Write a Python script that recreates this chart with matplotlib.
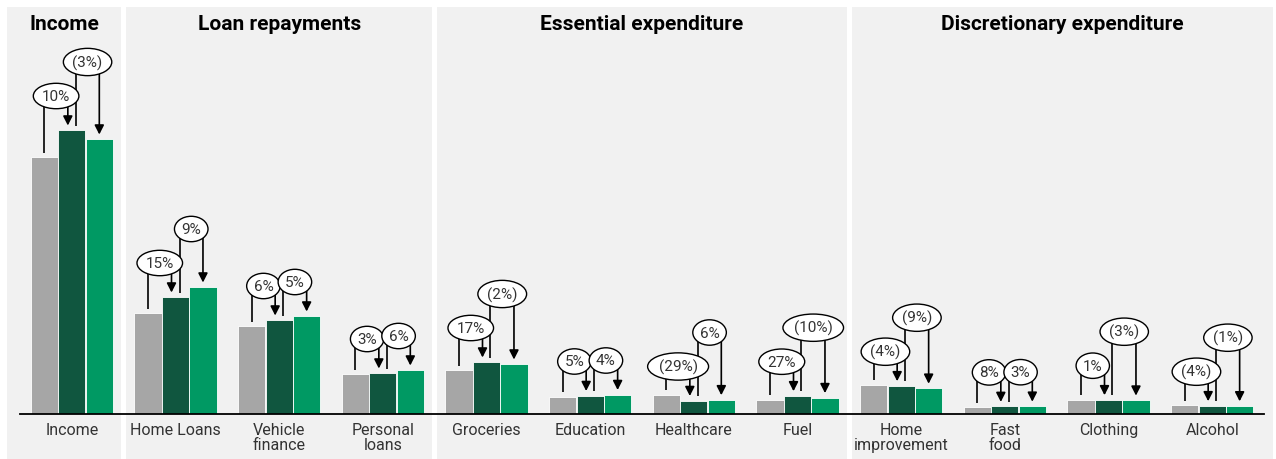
import matplotlib
matplotlib.use("Agg")
import matplotlib.pyplot as plt
from matplotlib.patches import Rectangle

# ---------------- data ----------------
categories = ["Income", "Home Loans", "Vehicle\nfinance", "Personal\nloans",
              "Groceries", "Education", "Healthcare", "Fuel",
              "Home\nimprovement", "Fast\nfood", "Clothing", "Alcohol"]
period_1 = [257, 101, 88, 40, 44, 17.5, 19.5, 14.3, 29.5, 7.0, 14.2, 8.6]
period_2 = [284, 117, 94, 41, 52, 18.5, 13.5, 18.3, 28.3, 7.6, 14.3, 8.3]
period_3 = [275, 127, 98, 44, 50, 19.5, 14.3, 16.4, 25.8, 7.8, 13.9, 8.2]
change_1_to_2 = ["10%", "15%", "6%", "3%", "17%", "5%", "(29%)", "27%", "(4%)", "8%", "1%", "(4%)"]
change_2_to_3 = ["(3%)", "9%", "5%", "6%", "(2%)", "4%", "6%", "(10%)", "(9%)", "3%", "(3%)", "(1%)"]
group_titles = ["Income", "Loan repayments", "Essential expenditure", "Discretionary expenditure"]
group_sizes = [1, 3, 4, 4]

# ---------------- style ----------------
FONT = "Roboto"
plt.rcParams["font.family"] = [FONT, "DejaVu Sans"]
C_GREY = "#a6a6a6"
C_DARK = "#10563f"
C_GREEN = "#009963"
C_PANEL = "#f1f1f1"

W, H = 1276, 460
fig = plt.figure(figsize=(W / 100, H / 100), dpi=100)
fig.patch.set_facecolor("white")
ax = fig.add_axes([20 / W, 45 / H, 1244 / W, 407 / H])
ax.set_facecolor("none")
n = len(categories)
ax.set_xlim(-0.5, n - 0.5)
ax.set_ylim(0, 407)

px_x = 1244 / n          # pixels per x unit
px_y = 1.0               # pixels per y unit

# panels
gap = 2.5 / px_x
start = 0
for gi, size in enumerate(group_sizes):
    x0 = start - 0.5 + (gap if start > 0 else -13 / px_x)
    end = start + size - 1
    x1 = end + 0.5 - (gap if end < n - 1 else -9 / px_x)
    ax.add_patch(Rectangle((x0, -46), x1 - x0, 453, facecolor=C_PANEL,
                           edgecolor="none", zorder=0, clip_on=False))
    ax.text((x0 + x1) / 2, 391, group_titles[gi], ha="center", va="center",
            fontsize=15, fontweight="bold", color="black", zorder=3)
    start += size

# bars
off = 0.265
bw = 0.262
xs = list(range(n))
ax.bar([x - off for x in xs], period_1, width=bw, color=C_GREY, edgecolor="white", linewidth=0.6, zorder=2)
ax.bar(xs, period_2, width=bw, color=C_DARK, edgecolor="white", linewidth=0.6, zorder=2)
ax.bar([x + off for x in xs], period_3, width=bw, color=C_GREEN, edgecolor="white", linewidth=0.6, zorder=2)

# axes styling
for s in ["left", "right", "top"]:
    ax.spines[s].set_visible(False)
ax.spines["bottom"].set_color("black")
ax.spines["bottom"].set_linewidth(1.3)
ax.spines["bottom"].set_zorder(4)
ax.set_yticks([])
ax.set_xticks(xs)
ax.set_xticklabels(categories, fontsize=11.5, color="#333333")
ax.tick_params(axis="x", length=0, pad=6)
for lbl in ax.get_xticklabels():
    lbl.set_linespacing(1.0)

# change annotations
LIFT = 34 / px_y
GAP = 4.5 / px_y
DX = 4 / px_x
bbox_kw = dict(boxstyle="ellipse,pad=0.13", fc="white", ec="black", lw=1)
LBL_FS = 11

labels1, labels2 = [], []
for i in xs:
    xg, xd, xc = i - off, i, i + off
    lvl1 = period_2[i] + LIFT
    t1 = ax.text((xg + xd - DX) / 2, lvl1, change_1_to_2[i], ha="center", va="center",
                 fontsize=LBL_FS, color="#333333", bbox=bbox_kw, zorder=6)
    lvl2 = period_3[i] + LIFT
    t2 = ax.text((xd + DX + xc) / 2, lvl2, change_2_to_3[i], ha="center", va="center",
                 fontsize=LBL_FS, color="#333333", bbox=bbox_kw, zorder=6)
    labels1.append((t1, lvl1))
    labels2.append((t2, lvl2))

fig.canvas.draw()
renderer = fig.canvas.get_renderer()


def arrow(x, y_top, y_tip):
    ax.annotate("", xy=(x, y_tip), xytext=(x, y_top),
                arrowprops=dict(arrowstyle="-|>,head_length=0.55,head_width=0.28",
                                color="black", lw=1.2, shrinkA=0, shrinkB=0,
                                mutation_scale=10), zorder=5)


for i in xs:
    xg, xd, xc = i - off, i, i + off
    t1, lvl1 = labels1[i]
    t2, lvl2 = labels2[i]
    b1 = t1.get_bbox_patch().get_window_extent(renderer)
    b2 = t2.get_bbox_patch().get_window_extent(renderer)
    if (b1.x1 - b2.x0 > 2.5) and (abs(lvl1 - lvl2) * px_y < b1.height):
        lvl2 = lvl1 + LIFT
        t2.set_y(lvl2)
    # bracket 1
    ax.plot([xg, xg, xd - DX], [period_1[i] + GAP, lvl1, lvl1], color="black", lw=1.2,
            zorder=5, solid_capstyle="butt")
    arrow(xd - DX, lvl1, period_2[i] + GAP)
    # bracket 2
    ax.plot([xd + DX, xd + DX, xc], [period_2[i] + GAP, lvl2, lvl2], color="black", lw=1.2,
            zorder=5, solid_capstyle="butt")
    arrow(xc, lvl2, period_3[i] + GAP)

fig.savefig("out.png", dpi=100, facecolor="white")
